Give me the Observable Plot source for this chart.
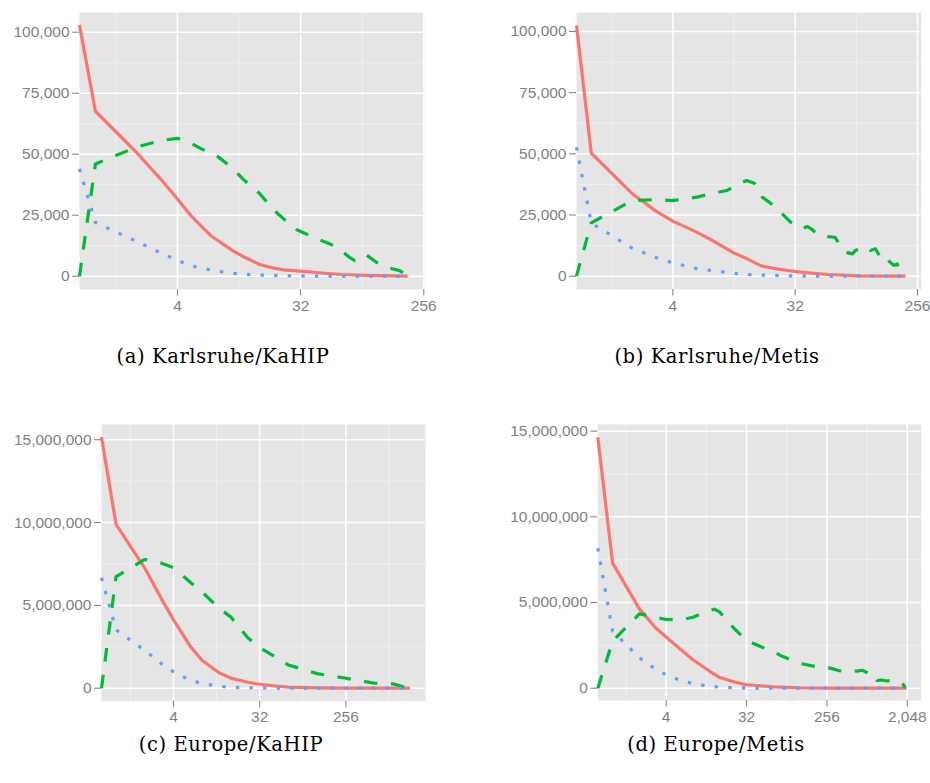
<!DOCTYPE html>
<html>
<head>
<meta charset="utf-8">
<script src="https://cdn.jsdelivr.net/npm/d3@7"></script>
<script src="https://cdn.jsdelivr.net/npm/@observablehq/plot@0.6"></script>
<style>
  html, body { margin: 0; padding: 0; background: #ffffff; }
  #root { position: relative; width: 930px; height: 783px; overflow: hidden; }
  .panel { position: absolute; }
  .cap { position: absolute; width: 440px; text-align: center; font-family: "DejaVu Serif", "Liberation Serif", serif; font-size: 19.5px; letter-spacing: 0.6px; color: #000; line-height: 20px; white-space: nowrap; }
</style>
</head>
<body>
<div id="root"></div>
<script>
// ---- data: [x, value] pairs (x on a log2 axis; x = 0 sits at the panel edge) ----
const aRed = [[0,103000],[1,67600],[2,50800],[3,39900],[4,31600],[5,24900],[6,20400],[7,16700],[8,14400],[10,10700],[12,8200],[16,4800],[20,3400],[24,2600],[32,2050],[48,1200],[64,700],[96,350],[128,250],[160,120],[195,50]];
const aGreen = [[0,0],[1,46000],[2,52900],[3,55600],[4,56500],[5,54500],[6,52200],[8,48800],[10,44500],[12,40000],[16,33900],[20,27500],[24,23500],[30,19000],[33,18000],[42,15300],[51,13500],[59,11900],[74,7500],[80,6400],[89,7100],[97,8700],[115,5700],[136,3700],[170,2300],[195,300]];
const aBlue = [[0,44000],[1,22000],[2,14300],[3,9600],[4,6500],[5,4300],[6,3300],[8,2000],[10,1200],[12,850],[16,450],[24,200],[32,100],[64,30],[128,0],[195,0]];

const bRed = [[0,102500],[1,50300],[2,33800],[3,26600],[4,22500],[6,18000],[8,14300],[11,9800],[14,7200],[18,4200],[24,2900],[32,1900],[55,700],[97,150],[209,0]];
const bGreen = [[0,0],[1,21800],[2,30900],[3,31300],[4,30900],[6,32300],[8,33900],[10,35000],[12,37500],[14,39100],[16,38000],[18.3,32300],[21.7,29300],[25.7,25500],[29.6,22100],[36,19400],[39.4,20300],[42.8,19000],[47.9,16600],[55.3,16200],[63,15900],[69,12500],[75.4,9800],[84.6,9100],[89,10500],[100,11600],[109,11900],[115,10500],[125,11200],[136,7800],[149,8500],[158,6100],[171,4400],[181,5000],[192,2300],[203,300],[209,800]];
const bBlue = [[0,52700],[1,21700],[2,11500],[3,7600],[4,5500],[6,3100],[8,2200],[12,1000],[16,500],[32,100],[64,20],[128,0],[209,0]];

const cRed = [[0,15160000],[1,9890000],[2,7250000],[3,5380000],[4,4130000],[6,2520000],[8,1670000],[12,930000],[16,610000],[24,360000],[32,240000],[48,120000],[64,70000],[128,25000],[256,10000],[1200,0]];
const cGreen = [[0,0],[1,6740000],[2,7770000],[3,7550000],[4,7270000],[6,6400000],[8,5800000],[12,4830000],[16,4290000],[24,3050000],[32,2450000],[64,1400000],[128,880000],[256,600000],[512,300000],[640,300000],[800,260000],[1000,100000],[1050,50000]];
const cBlue = [[0,6670000],[1,3520000],[2,2280000],[3,1470000],[4,990000],[6,480000],[8,280000],[12,120000],[16,50000],[32,15000],[64,0],[1200,0]];

const dRed = [[0,14650000],[1,7300000],[2,4630000],[3,3560000],[4,2980000],[6,2200000],[8,1660000],[12,1030000],[16,620000],[24,350000],[32,200000],[64,80000],[128,25000],[256,8000],[2000,0]];
const dGreen = [[0,0],[1,2750000],[2,4340000],[3,4140000],[4,4010000],[6,4000000],[8,4140000],[12,4530000],[14,4610000],[16,4440000],[20,3850000],[24,3410000],[32,2780000],[48,2390000],[64,2150000],[77,1910000],[123,1460000],[206,1230000],[280,1170000],[345,1030000],[430,970000],[560,1000000],[636,1050000],[700,950000],[788,840000],[850,880000],[935,450000],[1050,480000],[1215,420000],[1400,460000],[1576,350000],[1800,300000],[1950,20000]];
const dBlue = [[0,8170000],[1,3330000],[2,1770000],[3,1130000],[4,780000],[6,430000],[8,270000],[12,120000],[16,60000],[24,20000],[64,0],[2000,0]];

// ---- tick values ----
const xTicksSmall = [4, 32, 256];
const xTicksLarge = [4, 32, 256, 2048];
const xMinorSmall = [2 ** 0.5, 2 ** 3.5, 2 ** 6.5];
const xMinorLarge = [2 ** 0.5, 2 ** 3.5, 2 ** 6.5, 2 ** 9.5];
const yTicksSmall = [0, 25000, 50000, 75000, 100000];
const yMinorSmall = [12500, 37500, 62500, 87500];
const yTicksLarge = [0, 5000000, 10000000, 15000000];
const yMinorLarge = [2500000, 7500000, 12500000];

const captions = ["(a) Karlsruhe/KaHIP", "(b) Karlsruhe/Metis", "(c) Europe/KaHIP", "(d) Europe/Metis"];

// ---- layout (positions / sizes) ----
const panels = [
  {red: aRed, green: aGreen, blue: aBlue, xt: xTicksSmall, xm: xMinorSmall, yt: yTicksSmall, ym: yMinorSmall,
   left: 0, top: 0, width: 450, height: 320, mL: 79, mR: 26, mT: 12, mB: 31,
   xLog: [-0.387, 8.017], yDom: [-5450, 108070], cap: captions[0], capX: 223, capY: 347},
  {red: bRed, green: bGreen, blue: bBlue, xt: xTicksSmall, xm: xMinorSmall, yt: yTicksSmall, ym: yMinorSmall,
   left: 465, top: 0, width: 465, height: 320, mL: 111, mR: 9.3, mT: 12, mB: 31,
   xLog: [-0.362, 8.09], yDom: [-5440, 107760], cap: captions[1], capX: 717, capY: 347},
  {red: cRed, green: cGreen, blue: cBlue, xt: xTicksSmall, xm: xMinorLarge, yt: yTicksLarge, ym: yMinorLarge,
   left: 0, top: 400, width: 450, height: 330, mL: 101, mR: 25, mT: 24, mB: 29.3,
   xLog: [-0.506, 10.77], yDom: [-785000, 15920000], cap: captions[2], capX: 231, capY: 735},
  {red: dRed, green: dGreen, blue: dBlue, xt: xTicksLarge, xm: xMinorLarge, yt: yTicksLarge, ym: yMinorLarge,
   left: 465, top: 400, width: 465, height: 330, mL: 132.3, mR: 9.3, mT: 24, mB: 30,
   xLog: [-0.553, 11.52], yDom: [-718000, 15390000], cap: captions[3], capX: 716, capY: 735}
];

const root = document.getElementById("root");
const fmt = d3.format(",");

for (const p of panels) {
  const lo = 2 ** p.xLog[0];
  const hi = 2 ** p.xLog[1];
  const X = d => Math.max(d[0], lo); // x = 0 (log -> -Inf) drawn at the panel edge
  const Y = d => d[1];
  const chart = Plot.plot({
    width: p.width,
    height: p.height,
    marginLeft: p.mL,
    marginRight: p.mR,
    marginTop: p.mT,
    marginBottom: p.mB,
    style: {background: "transparent", color: "#7F7F7F", fontFamily: "'Liberation Sans', Arial, sans-serif", fontSize: "15.5px"},
    x: {type: "log", base: 2, domain: [lo, hi], axis: null},
    y: {domain: p.yDom, axis: null},
    marks: [
      Plot.frame({fill: "#E5E5E5", stroke: null}),
      Plot.ruleX(p.xm, {stroke: "#F2F2F2", strokeWidth: 0.9}),
      Plot.ruleY(p.ym, {stroke: "#F2F2F2", strokeWidth: 0.9}),
      Plot.ruleX(p.xt, {stroke: "#FFFFFF", strokeWidth: 1.5}),
      Plot.ruleY(p.yt, {stroke: "#FFFFFF", strokeWidth: 1.5}),
      Plot.line(p.red, {x: X, y: Y, stroke: "#F8766D", strokeWidth: 3.2, strokeLinejoin: "round", strokeLinecap: "butt"}),
      Plot.line(p.green, {x: X, y: Y, stroke: "#00BA38", strokeWidth: 3.2, strokeDasharray: "13.5,13.5", strokeLinejoin: "round", strokeLinecap: "butt"}),
      Plot.line(p.blue, {x: X, y: Y, stroke: "#619CFF", strokeWidth: 3.2, strokeDasharray: "3.4,10.2", strokeLinecap: "butt"}),
      Plot.axisX(p.xt, {tickFormat: fmt, tickSize: 6.5, tickPadding: 3.5, label: null, fontSize: 15.5}),
      Plot.axisY(p.yt, {tickFormat: fmt, tickSize: 7, tickPadding: 3, label: null, fontSize: 15.5})
    ]
  });
  chart.classList.add("panel");
  chart.style.left = p.left + "px";
  chart.style.top = p.top + "px";
  root.appendChild(chart);

  const cap = document.createElement("div");
  cap.className = "cap";
  cap.textContent = p.cap;
  cap.style.left = (p.capX - 220) + "px";
  cap.style.top = p.capY + "px";
  root.appendChild(cap);
}
</script>
</body>
</html>
